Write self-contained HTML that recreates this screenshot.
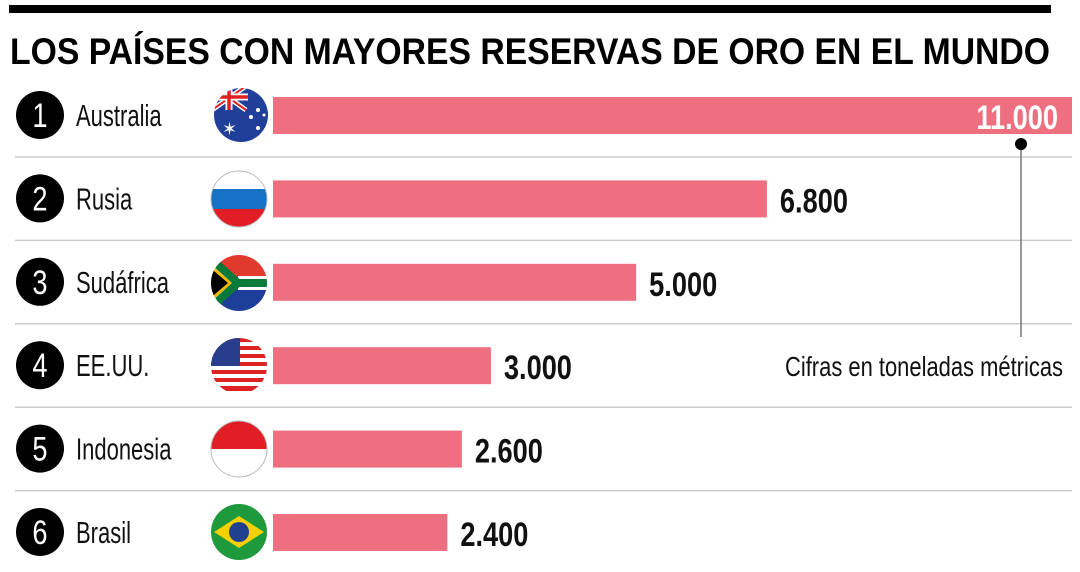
<!DOCTYPE html>
<html><head><meta charset="utf-8"><style>
html,body{margin:0;padding:0;background:#fff;}
body{width:1080px;height:567px;overflow:hidden;}
svg text{font-family:"Liberation Sans",sans-serif;}
</style></head><body>
<svg id="chart" width="1080" height="567" viewBox="0 0 1080 567" xmlns="http://www.w3.org/2000/svg">
<defs>
<clipPath id="c0"><circle cx="241" cy="115" r="27"/></clipPath>
<clipPath id="c1"><circle cx="239" cy="199" r="28"/></clipPath>
<clipPath id="c2"><circle cx="239" cy="283" r="28"/></clipPath>
<clipPath id="c3"><circle cx="239" cy="366" r="28"/></clipPath>
<clipPath id="c4"><circle cx="239" cy="449" r="28"/></clipPath>
<clipPath id="c5"><circle cx="239" cy="532" r="28"/></clipPath>
</defs>
<rect x="9" y="5" width="1042" height="8" fill="#000"/>
<text x="10" y="64" font-size="37" font-weight="bold" fill="#000" textLength="1040" lengthAdjust="spacingAndGlyphs">LOS PAÍSES CON MAYORES RESERVAS DE ORO EN EL MUNDO</text>
<g id="rows"></g>
<g>
<g clip-path="url(#c0)"><rect x="210" y="85" width="62" height="60" fill="#1f3f99"/><path d="M212 86 L246 110 M246 86 L212 110" stroke="#fff" stroke-width="5"/><path d="M212 86 L246 110 M246 86 L212 110" stroke="#d22" stroke-width="2"/><path d="M229 84 V110 M210 97 H248" stroke="#fff" stroke-width="7"/><path d="M229 84 V110 M210 97 H248" stroke="#d22" stroke-width="3.5"/><text x="222" y="135" font-size="18" fill="#fff">✶</text><circle cx="258" cy="110" r="2" fill="#fff"/><circle cx="251" cy="117" r="2" fill="#fff"/><circle cx="264" cy="115" r="1.5" fill="#fff"/><circle cx="258" cy="128" r="2" fill="#fff"/></g>
<g clip-path="url(#c1)"><rect x="210" y="170" width="60" height="60" fill="#fff"/><rect x="210" y="189" width="60" height="20" fill="#1672c4"/><rect x="210" y="209" width="60" height="22" fill="#e21d25"/></g>
<circle cx="239" cy="199" r="28" fill="none" stroke="#bbb" stroke-width="1"/>
<g clip-path="url(#c2)"><rect x="210" y="254" width="60" height="29" fill="#e03a2e"/><rect x="210" y="283" width="60" height="29" fill="#1d3f9a"/><path d="M208 256 L238 283 L208 310 Z" fill="#fff"/><path d="M238 283 H272" stroke="#fff" stroke-width="14"/><path d="M208 262 L232 283 L208 304 Z" fill="#f5b800"/><path d="M208 266 L228 283 L208 300 Z" fill="#000"/><path d="M208 256 L238 283 L208 310 M238 283 H272" stroke="#0a7a3a" stroke-width="8" fill="none"/></g>
<g clip-path="url(#c3)"><rect x="210" y="337" width="60" height="60" fill="#fff"/><g fill="#d22"><rect x="210" y="338" width="60" height="4"/><rect x="210" y="346" width="60" height="4"/><rect x="210" y="354" width="60" height="4"/><rect x="210" y="362" width="60" height="4"/><rect x="210" y="370" width="60" height="4"/><rect x="210" y="378" width="60" height="4"/><rect x="210" y="386" width="60" height="5"/></g><rect x="210" y="337" width="30" height="29" fill="#283e8a"/></g>
<g clip-path="url(#c4)"><rect x="210" y="420" width="60" height="29" fill="#e21d25"/><rect x="210" y="449" width="60" height="30" fill="#fff"/></g>
<circle cx="239" cy="449" r="28" fill="none" stroke="#bbb" stroke-width="1"/>
<g clip-path="url(#c5)"><rect x="210" y="503" width="60" height="60" fill="#1e9a3c"/><path d="M214 532 L239 516 L264 532 L239 548 Z" fill="#f7d000"/><circle cx="239" cy="532" r="10" fill="#21408f"/></g>
</g>
<line x1="1021" y1="144" x2="1021" y2="337" stroke="#777" stroke-width="1.5"/>
<circle cx="1021" cy="144" r="6" fill="#000"/>
<text x="785" y="376" font-size="28" fill="#111" textLength="278" lengthAdjust="spacingAndGlyphs">Cifras en toneladas métricas</text>
</svg>
<script>
const countries = ["Australia","Rusia","Sudáfrica","EE.UU.","Indonesia","Brasil"];
const values = [11000,6800,5000,3000,2600,2400];
const valueLabels = ["11.000","6.800","5.000","3.000","2.600","2.400"];
const ns="http://www.w3.org/2000/svg";
const g=document.getElementById('rows');
const x0=273, xMax=1072, vMax=11000;
function xs(v){return x0+(xMax-x0)*v/vMax;}
function rowY(i){return 115+i*83.4;}
function mk(t,a,parent){const e=document.createElementNS(ns,t);for(const k in a)e.setAttribute(k,a[k]);(parent||g).appendChild(e);return e;}
countries.forEach((c,i)=>{
  const cy=rowY(i);
  if(i<countries.length-1){
    const l=mk('line',{x1:15,x2:1072,y1:cy+42,y2:cy+42,stroke:'#ccc','stroke-width':1.5});
    
    
  }
  const ci=mk('circle',{cx:40,cy:cy,r:24,fill:'#000'});
  
  
  const ng=mk('g',{transform:'translate(40,'+(cy+12)+') scale(0.8,1)'});
  const n=mk('text',{x:0,y:0,'font-size':34,fill:'#fff','text-anchor':'middle'},ng);n.textContent=String(i+1);
  
  
  const tg=mk('g',{transform:'translate(76,'+(cy+11)+') scale(0.71,1)'});
  const t=mk('text',{x:0,y:0,'font-size':31,fill:'#111'},tg);t.textContent=c;
  
  
  const b=mk('rect',{x:x0,y:cy-18,width:xs(values[i])-x0,height:37,fill:'#ed6f80'});
  
  
  const first=i===0;
  const vx=first?xs(values[i])-14:xs(values[i])+13;
  const vg=mk('g',{transform:'translate('+vx+','+(cy+14)+') scale(0.8,1)'});
  const v=mk('text',{x:0,y:0,'font-size':34,'font-weight':'bold',fill:first?'#fff':'#111','text-anchor':first?'end':'start'},vg);
  v.textContent=valueLabels[i];
  
  
});
</script>
</body></html>
